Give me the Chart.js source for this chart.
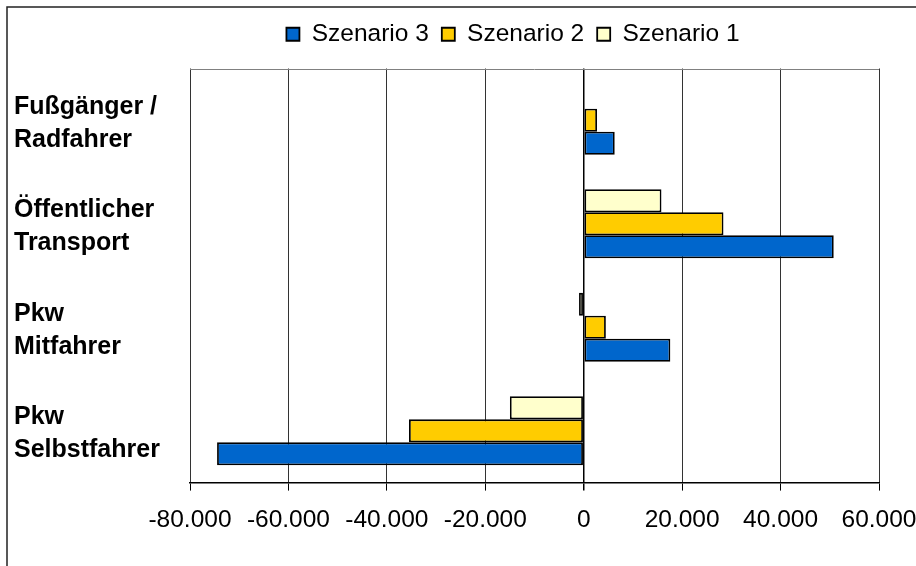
<!DOCTYPE html>
<html lang="de">
<head>
<meta charset="utf-8">
<title>Veränderung der Wege nach Verkehrsmittel – Szenarien</title>
<script src="https://cdn.jsdelivr.net/npm/chart.js@4.4.1/dist/chart.umd.min.js"></script>
<style>
  html, body { margin: 0; padding: 0; background: #fff; }
  #wrap { width: 916px; height: 566px; }
  canvas { display: block; }
</style>
</head>
<body>
<div id="wrap"><canvas id="c" width="916" height="566"></canvas></div>
<script>
// Verkehrsmittel (Kategorien), je zwei Zeilen
const categories = [
  ['Fußgänger /', 'Radfahrer'],
  ['Öffentlicher', 'Transport'],
  ['Pkw', 'Mitfahrer'],
  ['Pkw', 'Selbstfahrer']
];

// Veränderung je Szenario (Wege), gleiche Reihenfolge wie categories
const szenario1 = [0, 15800, -950, -15000];
const szenario2 = [2700, 28400, 4500, -35500];
const szenario3 = [6300, 50800, 17600, -74500];

const seriesNames = ['Szenario 1', 'Szenario 2', 'Szenario 3'];

// Achsenbeschriftung der Werteachse
const tickValues = [-80000, -60000, -40000, -20000, 0, 20000, 40000, 60000];
const tickLabels = ['-80.000', '-60.000', '-40.000', '-20.000', '0', '20.000', '40.000', '60.000'];

Chart.defaults.font.family = '"Liberation Sans", Arial, Helvetica, sans-serif';
Chart.defaults.color = '#000';

// Rahmen um das Diagramm, weißer Hintergrund, obere Kante der Zeichenfläche
// und Ausrichtung der Legende
const chartDecor = {
  id: 'chartDecor',
  afterLayout(chart, args, opts) {
    const lg = chart.legend;
    if (!lg) return;
    const dx = opts.legendCenterX - (lg.left + lg.right) / 2;
    lg.left += dx;
    lg.right += dx;
    lg.top += opts.legendDy;
    lg.bottom += opts.legendDy;
  },
  beforeDraw(chart, args, opts) {
    const ctx = chart.ctx;
    ctx.save();
    ctx.fillStyle = '#fff';
    ctx.fillRect(0, 0, chart.width, chart.height);
    ctx.strokeStyle = opts.frameColor;
    ctx.lineWidth = opts.frameWidth;
    ctx.strokeRect(opts.frameInset, opts.frameInset, chart.width + 40, chart.height + 40);
    ctx.restore();
  },
  beforeDatasetsDraw(chart, args, opts) {
    const {ctx, chartArea} = chart;
    ctx.save();
    ctx.strokeStyle = opts.plotTopColor;
    ctx.lineWidth = 1;
    ctx.beginPath();
    ctx.moveTo(chartArea.left, Math.round(chartArea.top) + 0.5);
    ctx.lineTo(chartArea.right, Math.round(chartArea.top) + 0.5);
    ctx.stroke();
    ctx.restore();
  }
};

const barStyle = {
  borderColor: '#000',
  borderWidth: 1.8,
  borderSkipped: false,
  categoryPercentage: 0.667,
  barPercentage: 1.0
};

new Chart(document.getElementById('c'), {
  type: 'bar',
  data: {
    labels: categories,
    datasets: [
      { label: seriesNames[0], data: szenario1, backgroundColor: '#FFFFCC', ...barStyle },
      { label: seriesNames[1], data: szenario2, backgroundColor: '#FFCC00', ...barStyle },
      { label: seriesNames[2], data: szenario3, backgroundColor: '#0066CC', ...barStyle }
    ]
  },
  options: {
    indexAxis: 'y',
    responsive: false,
    animation: false,
    devicePixelRatio: 1,
    layout: { padding: { top: 21, left: 14, right: 37, bottom: 16 } },
    plugins: {
      tooltip: { enabled: false },
      legend: {
        position: 'top',
        reverse: true,
        labels: {
          boxWidth: 13,
          boxHeight: 13,
          padding: 13,
          color: '#000',
          font: { size: 24.5 }
        }
      },
      chartDecor: {
        legendCenterX: 513,
        legendDy: -12,
        frameColor: '#222',
        frameWidth: 1.5,
        frameInset: 7,
        plotTopColor: '#808080'
      }
    },
    scales: {
      x: {
        type: 'linear',
        min: -80000,
        max: 60000,
        ticks: {
          stepSize: 20000,
          autoSkip: false,
          maxRotation: 0,
          padding: 15,
          color: '#000',
          font: { size: 24.5 },
          callback: (value) => {
            const i = tickValues.indexOf(value);
            return i >= 0 ? tickLabels[i] : '';
          }
        },
        grid: {
          color: (c) => (c.tick && c.tick.value === 0 ? '#000' : '#333'),
          lineWidth: (c) => (c.tick && c.tick.value === 0 ? 1.5 : 1),
          tickColor: '#000',
          tickLength: 8,
          drawTicks: true
        },
        border: { display: true, color: '#000', width: 1.5 },
        afterFit: (scale) => { scale.paddingLeft = 0; scale.paddingRight = 0; }
      },
      y: {
        type: 'category',
        offset: true,
        grid: { display: false },
        border: { display: false },
        ticks: {
          crossAlign: 'far',
          padding: 0,
          labelOffset: 3,
          color: '#000',
          font: { size: 25, weight: 'bold', lineHeight: 1.32 }
        },
        afterFit: (scale) => {
          scale.width = 176;
          scale.paddingTop = 0;
          scale.paddingBottom = 0;
        }
      }
    }
  },
  plugins: [chartDecor]
});
</script>
</body>
</html>
